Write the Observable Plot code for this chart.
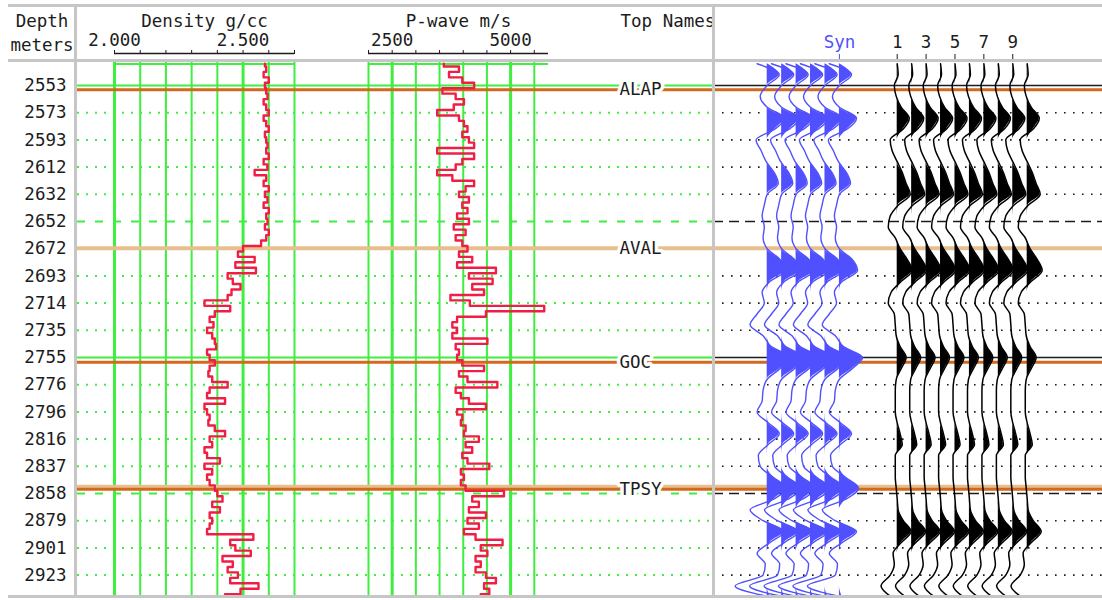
<!DOCTYPE html>
<html>
<head>
<meta charset="utf-8">
<script src="https://cdn.jsdelivr.net/npm/d3@7"></script>
<script src="https://cdn.jsdelivr.net/npm/@observablehq/plot@0.6"></script>
<style>
  body { margin: 0; background: #fff; }
  #chart { position: relative; width: 1102px; height: 600px; overflow: hidden; background: #fff; }
  .pane { position: absolute; top: 0; height: 600px; overflow: hidden; }
  .pane svg { position: absolute; left: 0; top: 0; }
  .border { position: absolute; background: #c6c6c6; }
</style>
</head>
<body>
<div id="chart"></div>
<script>
// ---------------------------------------------------------------------------
// Depth rows: one row every 10 ms two-way time, labelled with the well depth
const depthLabels = [2553, 2573, 2593, 2612, 2632, 2652, 2672, 2693, 2714, 2735,
                     2755, 2776, 2796, 2816, 2837, 2858, 2879, 2901, 2923];
const rowStartTime = 1700;   // ms
const rowStep = 10;          // ms
const rowTimes = depthLabels.map((_, i) => rowStartTime + i * rowStep);

// Log curves, resampled in time (2 ms)
const logStartTime = 1692;
const logStep = 2;
const density = [
  2.585, 2.59, 2.58, 2.60, 2.585, 2.59, 2.595, 2.58, 2.59, 2.60,
  2.58, 2.59, 2.60, 2.585, 2.59, 2.595, 2.59, 2.60, 2.58, 2.595,
  2.545, 2.59, 2.58, 2.60, 2.585, 2.595, 2.58, 2.60, 2.59, 2.595,
  2.585, 2.60, 2.59, 2.57, 2.50, 2.48, 2.545, 2.47, 2.55, 2.44,
  2.46, 2.49, 2.455, 2.44, 2.35, 2.45, 2.39, 2.37, 2.385, 2.36,
  2.38, 2.39, 2.395, 2.36, 2.37, 2.39, 2.37, 2.365, 2.38, 2.44,
  2.37, 2.36, 2.43, 2.35, 2.36, 2.37, 2.365, 2.39, 2.43, 2.37,
  2.38, 2.35, 2.36, 2.41, 2.35, 2.38, 2.36, 2.37, 2.39, 2.40,
  2.42, 2.38, 2.41, 2.37, 2.38, 2.37, 2.36, 2.54, 2.45, 2.47,
  2.53, 2.42, 2.46, 2.44, 2.48, 2.45, 2.56, 2.49, 2.43
];
const pwave = [
  3590, 3910, 3700, 3980, 4230, 3560, 3840, 4015, 3800, 3450,
  3910, 4015, 4090, 3980, 4120, 4230, 3450, 4230, 3980, 3840,
  3450, 3770, 4230, 4050, 3910, 4120, 3980, 4090, 3870, 4120,
  3800, 4050, 3840, 3980, 4090, 3910, 4190, 3870, 4690, 4120,
  4620, 4190, 4440, 3730, 4140, 5710, 4480, 3870, 3770, 3870,
  3770, 4510, 3840, 3910, 3870, 3980, 4440, 3910, 4090, 4720,
  3840, 3950, 4120, 4480, 3870, 3980, 3950, 4050, 4015, 4330,
  4050, 4190, 3980, 4090, 4550, 3950, 4015, 3950, 4050, 4860,
  4190, 4330, 4120, 4480, 4090, 4330, 4015, 4260, 4830, 4370,
  4510, 4260, 4370, 4260, 4480, 4690, 4440, 4550, 4370
];

// Seismic: synthetic and well-side traces, 4 ms samples, relative amplitude
const traceStartTime = 1692;
const traceStep = 4;
const synthetic = [
  -0.42, 0.50, 0, -0.29, 0, 0.71, 0.33, -0.46, -0.25, -0.04,
  0.29, 0.46, 0, -0.12, -0.21, -0.12, -0.17, 0, 0.54, 0.75,
  0.12, -0.21, -0.12, -0.42, -0.71, -0.17, 0.17, 0.96, 0.54, 0,
  -0.17, -0.21, -0.42, 0.04, 0.50, 0.04, -0.37, -0.29, 0.25, 0.79,
  0.29, -0.71, -0.17, 0.71, 0.12, -0.42, -0.08, -0.17, -1.33, 0.12
];
const seismic = [
  0, 0.04, -0.12, -0.04, 0.17, 0.50, 0.25, -0.29, -0.21, 0,
  0.21, 0.37, 0.54, 0.04, -0.29, -0.37, -0.08, 0.12, 0.42, 0.62,
  0.17, -0.25, -0.37, -0.12, -0.08, -0.04, 0.12, 0.37, 0.17, -0.04,
  -0.08, -0.08, -0.08, 0, 0.12, 0.21, -0.08, -0.08, -0.08, -0.04,
  0, 0.04, 0.25, 0.58, 0.17, -0.17, -0.12, -0.29, -0.67, -0.25
];

// Formation tops
const topNames = ["ALAP", "AVAL", "GOC", "TPSY"];
const topTimes = [1701.6, 1759.8, 1801.7, 1848.4];

// Track scales
const densityTicks = [2.0, 2.1, 2.2, 2.3, 2.4, 2.5, 2.6, 2.7];
const densityLabels = [2.0, 2.5];
const pwaveTicks = [2000, 2500, 3000, 3500, 4000, 4500, 5000, 5500];
const pwaveLabels = [2500, 5000];

// Trace slots in the seismic panel
const synSlots = [0, 1, 2, 3, 4, 5];
const traceNumbers = [1, 2, 3, 4, 5, 6, 7, 8, 9, 10];
const traceSlots = [9, 10, 11, 12, 13, 14, 15, 16, 17, 18];

// ---------------------------------------------------------------------------
const H = 600;
const FONT = '"DejaVu Sans Mono", "Liberation Mono", monospace';
const FS = 17.5;
const INK = "#1c1c1c";
const GREEN = "#3fee3f";
const RED = "#f01e44";
const ORANGE = "#d2691e";
const TAN = "#e7bf8e";
const BLUE = "#5050ff";
const yDomain = [1691.54, 1888.23];
const gain = 1.67; // trace slots per unit amplitude
const topColor = {ALAP: ORANGE, AVAL: TAN, GOC: ORANGE, TPSY: ORANGE};

// Vertical step curve for blocky log display
function curveStepY(context) {
  let x0, y0, started = false;
  return {
    areaStart() {}, areaEnd() {},
    lineStart() { started = false; },
    lineEnd() {},
    point(x, y) {
      x = +x; y = +y;
      if (!started) { started = true; context.moveTo(x, y); }
      else {
        const ym = (y0 + y) / 2;
        context.lineTo(x0, ym);
        context.lineTo(x, ym);
        context.lineTo(x, y);
      }
      x0 = x; y0 = y;
    }
  };
}

const chart = document.getElementById("chart");
function pane(left, width) {
  const div = document.createElement("div");
  div.className = "pane";
  div.style.left = left + "px";
  div.style.width = width + "px";
  chart.appendChild(div);
  return {div, width};
}
function layer(p, o) {
  const svg = Plot.plot({
    width: p.width, height: H,
    marginTop: 62, marginBottom: 3, marginLeft: o.left, marginRight: o.right,
    x: o.axisMarks ? {domain: o.x, label: null} : {domain: o.x || [0, 1], axis: null, label: null},
    y: {domain: yDomain, reverse: true, axis: null, label: null},
    style: {background: "transparent", fontFamily: FONT, fontSize: FS + "px", color: INK, overflow: "visible"},
    marks: o.marks
  });
  svg.style.position = "absolute";
  svg.style.left = "0px";
  svg.style.top = "0px";
  p.div.appendChild(svg);
}

const rowKind = t => (t % 100 === 0 ? "solid" : t % 50 === 0 ? "dashed" : "dotted");
const logPoints = arr => arr.map((v, i) => ({v, t: logStartTime + i * logStep}));

// ---------------------------------------------------------------- log panel
const logs = pane(0, 713);

// Time grid rows
layer(logs, {left: 77, right: 0, marks: [
  Plot.ruleY(rowTimes.filter(t => rowKind(t) === "dotted"), {stroke: GREEN, strokeWidth: 2, strokeDasharray: "2,7"}),
  Plot.ruleY(rowTimes.filter(t => rowKind(t) === "dashed"), {stroke: GREEN, strokeWidth: 2, strokeDasharray: "8,10"}),
  Plot.ruleY(rowTimes.filter(t => rowKind(t) === "solid"), {stroke: GREEN, strokeWidth: 2})
]});

// Density track grid and header axis
layer(logs, {left: 114, right: 713 - 294, x: [2.0, 2.7], axisMarks: true, marks: [
  Plot.ruleX(densityTicks.filter(d => !densityLabels.includes(d)), {stroke: GREEN, strokeWidth: 2}),
  Plot.ruleX(densityLabels, {stroke: GREEN, strokeWidth: 3}),
  Plot.ruleY([yDomain[0]], {stroke: GREEN, strokeWidth: 2, dy: 1.5}),
  Plot.ruleY([yDomain[0]], {stroke: INK, strokeWidth: 1.5, dy: -9}),
  Plot.axisX({anchor: "top", ticks: densityTicks, tickSize: 4, dy: -9, tickFormat: () => "", stroke: INK, label: null}),
  Plot.axisX({anchor: "top", ticks: densityLabels, tickSize: 0, tickPadding: 8, dy: -9, tickFormat: d3.format(".3f"), fontSize: FS, fill: INK, label: null}),
  Plot.text(["Density g/cc"], {text: d => d, frameAnchor: "top", dy: -36, lineAnchor: "bottom", fontSize: FS, fill: INK})
]});

// P-wave track grid and header axis
layer(logs, {left: 368, right: 713 - 548, x: [2000, 5800], axisMarks: true, marks: [
  Plot.ruleX(pwaveTicks.filter(d => !pwaveLabels.includes(d)), {stroke: GREEN, strokeWidth: 2}),
  Plot.ruleX(pwaveLabels, {stroke: GREEN, strokeWidth: 3}),
  Plot.ruleY([yDomain[0]], {stroke: GREEN, strokeWidth: 2, dy: 1.5}),
  Plot.ruleY([yDomain[0]], {stroke: INK, strokeWidth: 1.5, dy: -9}),
  Plot.axisX({anchor: "top", ticks: pwaveTicks, tickSize: 4, dy: -9, tickFormat: () => "", stroke: INK, label: null}),
  Plot.axisX({anchor: "top", ticks: pwaveLabels, tickSize: 0, tickPadding: 8, dy: -9, tickFormat: d => String(d), fontSize: FS, fill: INK, label: null}),
  Plot.text(["P-wave m/s"], {text: d => d, frameAnchor: "top", dy: -36, lineAnchor: "bottom", fontSize: FS, fill: INK})
]});

// Formation tops across the log panel
layer(logs, {left: 77, right: 0, marks: [
  Plot.ruleY(["TPSY"], {y: n => topTimes[topNames.indexOf(n)], stroke: TAN, strokeWidth: 4, dy: -2.5}),
  Plot.ruleY(topNames, {y: (n, i) => topTimes[i], stroke: n => topColor[n], strokeWidth: n => (n === "AVAL" ? 4 : 3)})
]});

// Log curves
layer(logs, {left: 114, right: 713 - 294, x: [2.0, 2.7], marks: [
  Plot.lineX(logPoints(density), {x: "v", y: "t", curve: curveStepY, stroke: RED, strokeWidth: 2.4})
]});
layer(logs, {left: 368, right: 713 - 548, x: [2000, 5800], marks: [
  Plot.lineX(logPoints(pwave), {x: "v", y: "t", curve: curveStepY, stroke: RED, strokeWidth: 2.4})
]});

// Top names column (header text runs under the panel divider)
layer(logs, {left: 618, right: 0, marks: [
  Plot.text(["Top Names"], {text: d => d, frameAnchor: "top-left", textAnchor: "start", dx: 2, dy: -36, lineAnchor: "bottom", fontSize: FS, fill: INK}),
  Plot.text(topNames, {text: d => d, y: (n, i) => topTimes[i], frameAnchor: "left", textAnchor: "start", dx: 1,
    fontSize: FS, fill: INK, stroke: "white", strokeWidth: 7, paintOrder: "stroke", strokeLinejoin: "round"})
]});

// Depth column
layer(logs, {left: 8, right: 713 - 75, marks: [
  Plot.text(["Depth"], {text: d => d, frameAnchor: "top", dy: -36, lineAnchor: "bottom", fontSize: FS, fill: INK}),
  Plot.text(["meters"], {text: d => d, frameAnchor: "top", dy: -12, lineAnchor: "bottom", fontSize: FS, fill: INK}),
  Plot.text(depthLabels, {text: d => String(d), y: (d, i) => rowTimes[i], frameAnchor: "right", textAnchor: "end", dx: -9, fontSize: FS, fill: INK})
]});

// ----------------------------------------------------------- seismic panel
const seis = pane(713, 389);

layer(seis, {left: 0, right: 0, marks: [
  Plot.ruleY(rowTimes.filter(t => rowKind(t) === "dotted"), {stroke: INK, strokeWidth: 1.6, strokeDasharray: "1.6,7.4"}),
  Plot.ruleY(rowTimes.filter(t => rowKind(t) === "dashed"), {stroke: INK, strokeWidth: 1.6, strokeDasharray: "10,6"}),
  Plot.ruleY(rowTimes.filter(t => rowKind(t) === "solid"), {stroke: INK, strokeWidth: 1.6})
]});
layer(seis, {left: 0, right: 0, marks: [
  Plot.ruleY(["TPSY"], {y: n => topTimes[topNames.indexOf(n)], stroke: TAN, strokeWidth: 4, dy: -2.5}),
  Plot.ruleY(topNames, {y: (n, i) => topTimes[i], stroke: n => topColor[n], strokeWidth: n => (n === "AVAL" ? 4 : 3)})
]});

const traceRows = (slots, amps) => slots.flatMap(s =>
  amps.map((a, j) => ({slot: s, t: traceStartTime + j * traceStep, a})));
const synRows = traceRows(synSlots, synthetic);
const seisRows = traceRows(traceSlots, seismic);

layer(seis, {left: 766.7 - 713, right: 389 - (1026.7 - 713), x: [0, 18], axisMarks: true, marks: [
  Plot.areaX(synRows, {x1: "slot", x2: d => d.slot + gain * Math.max(0, d.a), y: "t", z: "slot", fill: BLUE, curve: "monotone-y"}),
  Plot.lineX(synRows, {x: d => d.slot + gain * d.a, y: "t", z: "slot", stroke: BLUE, strokeWidth: 1.4, curve: "monotone-y"}),
  Plot.areaX(seisRows, {x1: "slot", x2: d => d.slot + gain * Math.max(0, d.a), y: "t", z: "slot", fill: "#000", curve: "monotone-y"}),
  Plot.lineX(seisRows, {x: d => d.slot + gain * d.a, y: "t", z: "slot", stroke: "#000", strokeWidth: 1.5, curve: "monotone-y"}),
  Plot.axisX({anchor: "top", ticks: [synSlots[synSlots.length - 1]], tickSize: 6, tickPadding: 6, dy: -3,
    tickFormat: () => "Syn", color: BLUE, stroke: BLUE, fill: BLUE, fontSize: FS, label: null}),
  Plot.axisX({anchor: "top", ticks: traceSlots.filter((s, i) => traceNumbers[i] % 2 === 1), tickSize: 6, tickPadding: 6, dy: -3,
    tickFormat: s => String(traceNumbers[traceSlots.indexOf(s)]), stroke: INK, fill: INK, fontSize: FS, label: null})
]});

// Panel borders
[[8, 4, 1094, 3], [8, 59, 1094, 3], [8, 595, 1094, 3], [74, 4, 3, 594], [712, 4, 3, 594]].forEach(([l, t, w, h]) => {
  const b = document.createElement("div");
  b.className = "border";
  Object.assign(b.style, {left: l + "px", top: t + "px", width: w + "px", height: h + "px"});
  chart.appendChild(b);
});
</script>
</body>
</html>
